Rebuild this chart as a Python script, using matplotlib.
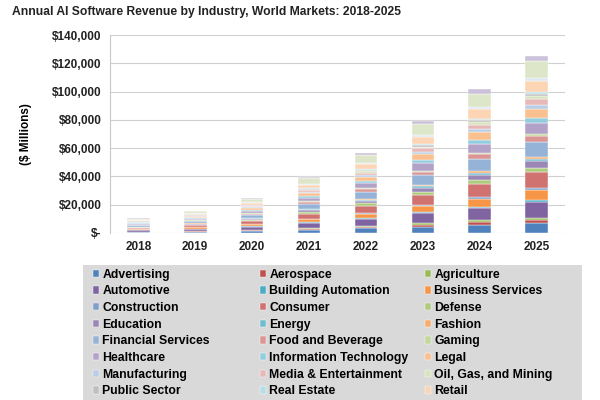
# --------------------------------------------------------------------------------
# Annual AI Software Revenue by Industry - stacked bars
# --------------------------------------------------------------------------------

import numpy as np
import matplotlib.pyplot as plt
from matplotlib.ticker import FuncFormatter
from matplotlib.patches import Rectangle

# --------------------------------------------------------------------------------

years = ["2018", "2019", "2020", "2021", "2022", "2023", "2024", "2025"]

industries = [
    "Advertising", "Aerospace", "Agriculture",
    "Automotive", "Building Automation", "Business Services",
    "Construction", "Consumer", "Defense",
    "Education", "Energy", "Fashion",
    "Financial Services", "Food and Beverage", "Gaming",
    "Healthcare", "Information Technology", "Legal",
    "Manufacturing", "Media & Entertainment", "Oil, Gas, and Mining",
    "Public Sector", "Real Estate", "Retail",
    "Telecommunications", "Transportation", "Utilities",
]

# $ millions, one row per industry, 2018..2025
revenue = [
    [600, 900, 1400, 2200, 3100, 4400, 5600, 7000],
    [200, 300, 450, 700, 1000, 1450, 1900, 2300],
    [120, 180, 300, 480, 680, 950, 1220, 1500],
    [1000, 1500, 2300, 3700, 5100, 7100, 9100, 11300],
    [70, 110, 180, 290, 400, 570, 730, 900],
    [550, 850, 1400, 2200, 3200, 4400, 5700, 7000],
    [120, 190, 300, 470, 680, 950, 1220, 1500],
    [900, 1400, 2200, 3600, 5100, 7100, 9200, 11300],
    [270, 410, 650, 1050, 1500, 2100, 2700, 3300],
    [380, 580, 930, 1500, 2100, 3000, 3800, 4700],
    [100, 160, 260, 410, 590, 820, 1060, 1300],
    [120, 190, 300, 470, 680, 950, 1220, 1500],
    [900, 1400, 2200, 3500, 5000, 7000, 8900, 11000],
    [310, 470, 750, 1200, 1700, 2400, 3100, 3800],
    [110, 170, 280, 440, 630, 880, 1140, 1400],
    [650, 1000, 1600, 2500, 3600, 5100, 6500, 8000],
    [270, 410, 650, 1050, 1500, 2100, 2700, 3300],
    [550, 840, 1340, 2150, 3070, 4300, 5500, 6800],
    [190, 290, 450, 730, 1040, 1450, 1870, 2300],
    [340, 520, 830, 1330, 1900, 2650, 3400, 4200],
    [170, 260, 410, 670, 950, 1330, 1700, 2100],
    [150, 240, 370, 600, 860, 1200, 1540, 1900],
    [100, 150, 240, 380, 540, 760, 970, 1200],
    [650, 990, 1580, 2540, 3600, 5050, 6500, 8000],
    [190, 290, 450, 730, 1040, 1450, 1870, 2300],
    [930, 1430, 2270, 3650, 5200, 7270, 9340, 11500],
    [310, 470, 750, 1200, 1700, 2400, 3100, 3800],
]

colors = [
    "#4F81BD", "#C0504D", "#9BBB59",
    "#8064A2", "#4BACC6", "#F79646",
    "#7F9FC9", "#D07270", "#AFCB80",
    "#9A87B5", "#6FBDD1", "#F9AB6B",
    "#95B3D7", "#D99694", "#C3D69B",
    "#B3A2C7", "#93CDDD", "#FAC090",
    "#B9CDE5", "#E6B9B8", "#D7E4BD",
    "#BFBFBF", "#B7DEE8", "#FCD5B5",
    "#DCE6F2", "#DDE6C8", "#CCC1DA",
]

# the picture's legend is cut off after this many entries
VISIBLE_LEGEND = 24

# --------------------------------------------------------------------------------
# Visualization
# --------------------------------------------------------------------------------

plt.rcParams['font.family'] = ['Liberation Sans', 'DejaVu Sans']

fig = plt.figure(figsize = (6, 4), dpi = 100)
ax = fig.add_axes([0.183, 0.418, 0.759, 0.4945])

x = np.arange(len(years))
bottom = np.zeros(len(years))
handles = []
for name, vals, col in zip(industries, revenue, colors):
    vals = np.array(vals, dtype = float)
    h = ax.bar(x, vals, width = 0.4, bottom = bottom, color = col, edgecolor = "white", linewidth = 0.3, label = name)
    handles.append(h)
    bottom += vals

ax.set_xlim(-0.5, len(years) - 0.5)
ax.set_ylim(0, 140000)
ax.set_yticks(np.arange(0, 140001, 20000))
ax.yaxis.set_major_formatter(FuncFormatter(lambda v, p: "$-" if v == 0 else f"${v:,.0f}"))
ax.set_xticks(x)
ax.set_xticklabels(years)
for lab in ax.get_xticklabels() + ax.get_yticklabels():
    lab.set_fontweight("bold")
    lab.set_fontsize(8.5)
    lab.set_color("#222222")
ax.tick_params(length = 0, pad = 6)
ax.yaxis.grid(True, color = "#d0d0d0", linewidth = 0.8)
ax.set_axisbelow(True)
for s in ["top", "right", "bottom"]:
    ax.spines[s].set_visible(False)
ax.spines["left"].set_color("#c8c8c8")
ax.set_ylabel("($ Millions)", fontsize = 8.5, fontweight = "bold", labelpad = 14)

fig.text(0.02, 0.97, "Annual AI Software Revenue by Industry, World Markets: 2018-2025",
         fontsize = 8.7, fontweight = "bold", ha = "left", va = "center", color = "#222222")

# gray legend panel, runs off the bottom of the picture like the original
fig.patches.append(Rectangle((83 / 600, -0.05), (582 - 83) / 600, 0.05 + (400 - 265) / 400,
                             transform = fig.transFigure, facecolor = "#d9d9d9", edgecolor = "none", zorder = 0))

# three single-column legends so entries read row by row
col_x = [89 / 600, 256 / 600, 421 / 600]
for c in range(3):
    idx = list(range(c, VISIBLE_LEGEND, 3))
    leg = fig.legend([handles[i] for i in idx], [industries[i] for i in idx],
                     loc = "upper left", bbox_to_anchor = (col_x[c], 1 - 265 / 400),
                     ncol = 1, frameon = False,
                     handlelength = 0.55, handleheight = 0.55, handletextpad = 0.25,
                     labelspacing = 0.38, borderaxespad = 0, borderpad = 0.3,
                     prop = {"weight": "bold", "size": 8.8})

plt.savefig("out.png", dpi = 100)
plt.close()
